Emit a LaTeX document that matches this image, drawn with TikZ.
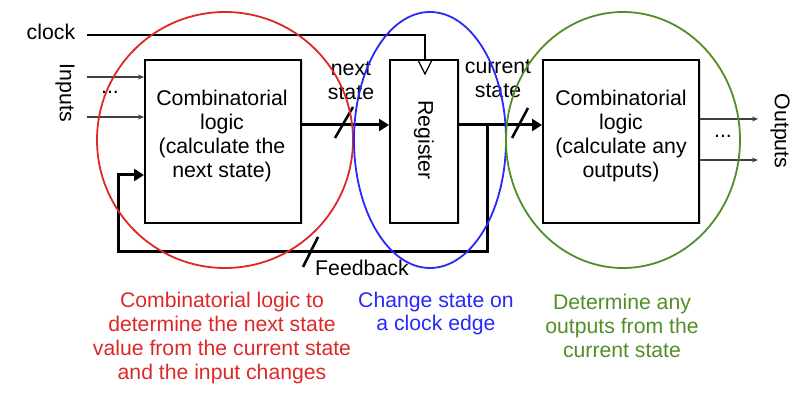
\documentclass[tikz,border=0pt]{standalone}
\usepackage{fontspec}
\setmainfont{Liberation Sans}
\usetikzlibrary{arrows.meta,shadows}
\definecolor{cred}{RGB}{222,40,40}
\definecolor{cblue}{RGB}{40,40,250}
\definecolor{cgreen}{RGB}{82,142,40}
\begin{document}
\begin{tikzpicture}[x=1pt,y=-1pt,
  box/.style={draw, line width=2pt, fill=white, drop shadow={shadow xshift=1.5pt, shadow yshift=-1.5pt, opacity=0.3}},
  lbl/.style={font=\fontsize{21.3}{24}\selectfont, align=center, inner sep=0pt},
  note/.style={font=\fontsize{21.2}{23.7}\selectfont, align=center, inner sep=0pt},
  thickarrow/.style={line width=3pt, -{Triangle[length=10pt,width=12pt]}},
  thinarrow/.style={line width=1.2pt, draw=black!75, -{Stealth[length=6pt,width=5pt]}},
  slash/.style={line width=2.5pt},
  thinline/.style={line width=1.3pt},
  ring/.style={line width=1.8pt}
  ]
\useasboundingbox (0,0) rectangle (806,406);
% boxes
\node[box, minimum width=156pt, minimum height=163pt] (cl1) at (223,141.5) {};
\node[box, minimum width=68pt, minimum height=163pt] (reg) at (424,141.5) {};
\node[box, minimum width=156pt, minimum height=163pt] (cl2) at (621,141.5) {};
\node[lbl] (t1) at (222,136) {Combinatorial\\logic\\(calculate the\\next state)};
\node[lbl] (t2) at (621,136) {Combinatorial\\logic\\(calculate any\\outputs)};
\node[lbl, rotate=-90] (treg) at (424,140) {Register};
% helper coordinates
\coordinate (bus) at (0,125);
\coordinate (tap) at (487,125);
\coordinate (fb) at (0,252);
\coordinate (fbl) at (118,175);
\coordinate (in1) at (87,77);
\coordinate (in2) at (87,117);
\coordinate (ck) at (87,35);
\coordinate (ckd) at (425,35);
\coordinate (o1) at (758,119);
\coordinate (o2) at (758,160);
% clock
\node[lbl] (clk) at (51,32) {clock};
\draw[thinline] (ck) -- (ckd) -- (ckd |- reg.north);
\draw[thinline] (418,60) -- (425,74) -- (432,60);
% inputs
\node[lbl, rotate=-90] (inl) at (65,93) {Inputs};
\draw[thinarrow] (in1) -- (cl1.west |- in1);
\draw[thinarrow] (in2) -- (cl1.west |- in2);
\node[lbl] (idots) at (110,92) {...};
% next state
\draw[thickarrow] (cl1.east |- bus) -- (reg.west |- bus);
\draw[slash] (353,107) -- (335,138);
\node[lbl] (ns) at (351,81) {next\\state};
% current state
\draw[thickarrow] (reg.east |- bus) -- (cl2.west |- bus);
\draw[slash] (528,108) -- (512,138);
\node[lbl] (cs) at (498,79) {current\\state};
% feedback
\draw[thickarrow] (tap) -- (tap |- fb) -- (fbl |- fb) -- (fbl) -- (cl1.west |- fbl);
\draw[slash] (318,237) -- (303,267);
\node[lbl, anchor=west] (fbt) at (315,268) {Feedback};
% outputs
\draw[thinarrow] (cl2.east |- o1) -- (o1);
\draw[thinarrow] (cl2.east |- o2) -- (o2);
\node[lbl] (odots) at (723,136) {...};
\node[lbl, rotate=-90] (outl) at (780,131) {Outputs};
% rings
\draw[ring, cred] (225,140) ellipse [x radius=128, y radius=128];
\draw[ring, cblue] (430,140) ellipse [x radius=76, y radius=128];
\draw[ring, cgreen] (623,140) ellipse [x radius=117, y radius=128];
% notes
\node[note, text=cred] (n1) at (222,338) {Combinatorial logic to\\determine the next state\\value from the current state\\and the input changes};
\node[note, text=cblue] (n2) at (436,313.5) {Change state on\\a clock edge};
\node[note, text=cgreen] (n3) at (622,326) {Determine any\\outputs from the\\current state};
\end{tikzpicture}
\end{document}
